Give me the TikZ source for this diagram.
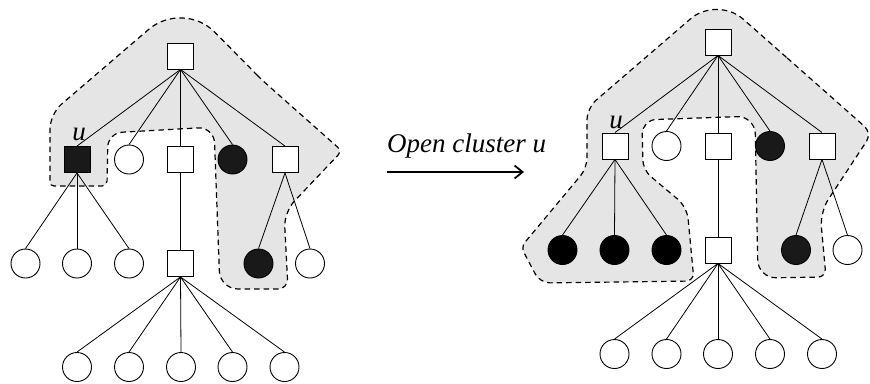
\documentclass[tikz,border=0pt]{standalone}
\usepackage{fontspec}
\setmainfont{Liberation Serif}
\usetikzlibrary{arrows.meta}
\begin{document}
\begin{tikzpicture}[x=1pt,y=-1pt,
 sq/.style={draw,rectangle,minimum size=26pt,inner sep=0pt,fill=white,line width=0.9pt},
 ci/.style={draw,circle,minimum size=29pt,inner sep=0pt,fill=white,line width=0.9pt},
 dci/.style={ci,fill=black!90},
 bci/.style={ci,fill=black},
 bsq/.style={sq,fill=black!90},
 hull/.style={draw,dash pattern=on 5.5pt off 4pt,line width=1.2pt,fill=black!10},
 ed/.style={line width=0.8pt},
 lab/.style={font=\fontsize{27}{31}\selectfont\itshape,inner sep=0pt}]
\useasboundingbox (0,0) rectangle (870,383);

% ---- hulls ----
\path[hull] (262,80) [rounded corners=45pt] -- (183,0) [rounded corners=15pt] -- (50,114)
  [rounded corners=4pt] -- (50,186) [rounded corners=5pt] -- (107,186)
  [rounded corners=14pt] -- (108,133) [rounded corners=16pt] -- (214,127)
  [rounded corners=18pt] -- (220,289) [rounded corners=10pt] -- (288,289)
  [rounded corners=15pt] -- (284,212) [rounded corners=6pt] -- (342,151) -- cycle;

\path[hull] (794,64) [rounded corners=35pt] -- (717,-4) [rounded corners=12pt] -- (587,108)
  [rounded corners=10pt] -- (587,168) [rounded corners=6pt] -- (521,247)
  [rounded corners=10pt] -- (540,283) [rounded corners=8pt] -- (694,281)
  [rounded corners=12pt] -- (687,207) [rounded corners=10pt] -- (643,170)
  [rounded corners=14pt] -- (642,120) [rounded corners=18pt] -- (755,116)
  [rounded corners=18pt] -- (758,278) [rounded corners=8pt] -- (826,277)
  [rounded corners=15pt] -- (820,212) [rounded corners=10pt] -- (872,133) -- cycle;

% ---- left tree ----
\node[sq] (lr) at (180.5,56) {};
\node[bsq] (lu) at (77,159.5) {};
\node[ci] (lc1) at (129,159.5) {};
\node[sq] (ls1) at (180.5,159.5) {};
\node[dci] (ld1) at (232.5,159.5) {};
\node[sq] (ls2) at (285,159.5) {};
\node[ci] (la1) at (25.5,263.5) {};
\node[ci] (la2) at (77,263.5) {};
\node[ci] (la3) at (129,263.5) {};
\node[sq] (ls3) at (180.5,263.5) {};
\node[dci] (ld2) at (258.5,263.5) {};
\node[ci] (lc2) at (310,263.5) {};
\node[ci] (lb1) at (77,367) {};
\node[ci] (lb2) at (129,367) {};
\node[ci] (lb3) at (181,367) {};
\node[ci] (lb4) at (232.5,367) {};
\node[ci] (lb5) at (284.5,367) {};
\node[lab,anchor=base] (lul) at (79,140) {u};

\foreach \c in {lu,lc1,ls1,ld1,ls2} \draw[ed] (lr.south) -- (\c.north);
\foreach \c in {la1,la2,la3} \draw[ed] (lu.south) -- (\c.north);
\draw[ed] (ls1.south) -- (ls3.north);
\foreach \c in {ld2,lc2} \draw[ed] (ls2.south) -- (\c.north);
\foreach \c in {lb1,lb2,lb3,lb4,lb5} \draw[ed] (ls3.south) -- (\c.north);

% ---- right tree ----
\node[sq] (rr) at (718,42) {};
\node[sq] (ru) at (615,146) {};
\node[ci] (rc1) at (666.5,146) {};
\node[sq] (rs1) at (718,146) {};
\node[dci] (rd1) at (770,146) {};
\node[sq] (rs2) at (822,146) {};
\node[bci] (ra1) at (562.5,250) {};
\node[bci] (ra2) at (614.5,250) {};
\node[bci] (ra3) at (666.5,250) {};
\node[sq] (rs3) at (718,250) {};
\node[dci] (rd2) at (796,250) {};
\node[ci] (rc2) at (847.5,250) {};
\node[ci] (rb1) at (614.5,354) {};
\node[ci] (rb2) at (666.5,354) {};
\node[ci] (rb3) at (718,354) {};
\node[ci] (rb4) at (770,354) {};
\node[ci] (rb5) at (822,354) {};
\node[lab,anchor=base] (rul) at (616,128) {u};

\foreach \c in {ru,rc1,rs1,rd1,rs2} \draw[ed] (rr.south) -- (\c.north);
\foreach \c in {ra1,ra2,ra3} \draw[ed] (ru.south) -- (\c.north);
\draw[ed] (rs1.south) -- (rs3.north);
\foreach \c in {rd2,rc2} \draw[ed] (rs2.south) -- (\c.north);
\foreach \c in {rb1,rb2,rb3,rb4,rb5} \draw[ed] (rs3.south) -- (\c.north);

% ---- arrow ----
\node[lab,anchor=base west] (txt) at (387,152) {Open cluster u};
\coordinate (a0) at (387,172);
\coordinate (a1) at (524,172);
\draw[line width=1.8pt,-{Straight Barb[length=8pt,width=13pt]}] (a0) -- (a1);
\end{tikzpicture}
\end{document}
